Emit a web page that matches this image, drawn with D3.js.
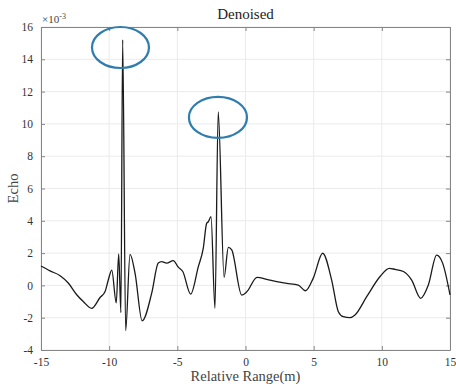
<!DOCTYPE html>
<html>
<head>
<meta charset="utf-8">
<script src="https://cdn.jsdelivr.net/npm/d3@7"></script>
<style>
  body { margin: 0; background: #fff; }
  svg text { font-family: "Liberation Serif", "Times New Roman", serif; }
</style>
</head>
<body>
<svg width="456" height="384"></svg>
<script>
// relative range (m) and echo (x 1e-3)
var rangeM = [-15.0, -14.34, -13.6, -13.0, -12.38, -11.9, -11.28, -10.67, -10.3, -10.06,
  -9.81, -9.48, -9.3, -9.14, -9.01, -8.79, -8.47, -8.1, -7.58, -6.88,
  -6.4, -6.15, -5.78, -5.3, -4.93, -4.6, -4.02, -3.46, -3.1, -2.85,
  -2.73, -2.53, -2.24, -2.0, -1.57, -1.26, -1.01, -0.28, 0.09, 0.85,
  1.56, 2.29, 3.02, 3.87, 4.4, 4.97, 5.66, 6.32, 6.81, 7.17,
  7.66, 8.03, 8.89, 9.87, 10.55, 10.97, 11.58, 12.19, 12.85, 13.41,
  14.02, 14.46, 15.0];
var echo = [1.2, 0.9, 0.6, 0.15, -0.58, -1.0, -1.42, -0.75, -0.38, 0.35,
  0.95, -1.08, 1.95, -1.68, 15.2, -2.8, 1.92, 0.75, -2.2, -0.48,
  1.38, 1.47, 1.38, 1.54, 1.13, 0.86, -0.54, 1.16, 2.29, 3.84,
  3.94, 4.25, -1.42, 10.75, 0.5, 2.36, 2.2, -0.6, -0.4, 0.5,
  0.38, 0.23, 0.13, 0.02, -0.33, 0.45, 1.99, 0.33, -1.63, -1.94,
  -2.0, -1.83, -0.7, 0.55, 1.06, 0.99, 0.86, 0.33, -0.8, 0.02,
  1.88, 1.38, -0.58];

var xTicks = [-15, -10, -5, 0, 5, 10, 15];
var yTicks = [-4, -2, 0, 2, 4, 6, 8, 10, 12, 14, 16];

// highlighted peaks: centre and half-widths in data units
var markX = [-9.17, -2.02];
var markY = [14.73, 10.4];
var markRx = [2.09, 2.13];
var markRy = [1.27, 1.27];

var svg = d3.select("svg"),
  margin = {top: 27, right: 6, bottom: 34, left: 41},
  width = +svg.attr("width") - margin.left - margin.right,
  height = +svg.attr("height") - margin.top - margin.bottom;

var x = d3.scaleLinear().domain([-15, 15]).range([0, width]);
var y = d3.scaleLinear().domain([-4, 16]).range([height, 0]);

var g = svg.append("g")
  .attr("transform", "translate(" + margin.left + "," + margin.top + ")");

// grid
g.append("g").selectAll("line")
  .data(xTicks)
  .enter().append("line")
  .attr("x1", function(d) { return x(d); })
  .attr("x2", function(d) { return x(d); })
  .attr("y1", 0).attr("y2", height)
  .style("stroke", "#ebebeb");
g.append("g").selectAll("line")
  .data(yTicks)
  .enter().append("line")
  .attr("y1", function(d) { return y(d); })
  .attr("y2", function(d) { return y(d); })
  .attr("x1", 0).attr("x2", width)
  .style("stroke", "#ebebeb");

// axes with inward ticks on every side
function styleAxis(sel) {
  sel.attr("font-family", null).attr("font-size", null);
  sel.select(".domain").style("stroke", "#858585");
  sel.selectAll(".tick line").style("stroke", "#858585");
  sel.selectAll(".tick text")
    .style("font-size", "11.5px")
    .style("fill", "#333");
}

function minus(d) { return d < 0 ? "-" + (-d) : d; }

g.append("g")
  .attr("transform", "translate(0," + height + ")")
  .call(d3.axisBottom(x).tickValues(xTicks).tickSizeInner(-4).tickSizeOuter(0).tickPadding(8)
    .tickFormat(minus))
  .call(styleAxis);
g.append("g")
  .call(d3.axisTop(x).tickValues(xTicks).tickSizeInner(-4).tickSizeOuter(0).tickFormat(""))
  .call(styleAxis);
g.append("g")
  .call(d3.axisLeft(y).tickValues(yTicks).tickSizeInner(-4).tickSizeOuter(0).tickPadding(8)
    .tickFormat(minus))
  .call(styleAxis);
g.append("g")
  .attr("transform", "translate(" + width + ",0)")
  .call(d3.axisRight(y).tickValues(yTicks).tickSizeInner(-4).tickSizeOuter(0).tickFormat(""))
  .call(styleAxis);

// signal
var line = d3.line()
  .x(function(d) { return x(d[0]); })
  .y(function(d) { return y(d[1]); })
  .curve(d3.curveMonotoneX);

g.append("path")
  .datum(d3.zip(rangeM, echo))
  .attr("d", line)
  .style("fill", "none")
  .style("stroke", "#1a1a1a")
  .style("stroke-width", 1.3);

// peak markers
g.append("g").selectAll("ellipse")
  .data(d3.range(markX.length))
  .enter().append("ellipse")
  .attr("cx", function(i) { return x(markX[i]); })
  .attr("cy", function(i) { return y(markY[i]); })
  .attr("rx", function(i) { return x(markX[i] + markRx[i]) - x(markX[i]); })
  .attr("ry", function(i) { return y(markY[i] - markRy[i]) - y(markY[i]); })
  .style("fill", "none")
  .style("stroke", "#2f7dad")
  .style("stroke-width", 2.2);

// labels
svg.append("text")
  .attr("x", margin.left + width / 2).attr("y", 19)
  .attr("text-anchor", "middle")
  .style("font-size", "15px").style("fill", "#222")
  .text("Denoised");

svg.append("text")
  .attr("x", margin.left + width / 2).attr("y", 381)
  .attr("text-anchor", "middle")
  .style("font-size", "14.5px").style("fill", "#444")
  .text("Relative Range(m)");

svg.append("text")
  .attr("transform", "translate(18," + (margin.top + height / 2) + ") rotate(-90)")
  .attr("text-anchor", "middle")
  .style("font-size", "14.5px").style("fill", "#444")
  .text("Echo");

var mult = svg.append("text")
  .attr("x", 42).attr("y", 23)
  .style("font-size", "11px").style("fill", "#444");
mult.append("tspan").text("×10");
mult.append("tspan").attr("dy", -4).style("font-size", "8px").text("-3");
</script>
</body>
</html>
